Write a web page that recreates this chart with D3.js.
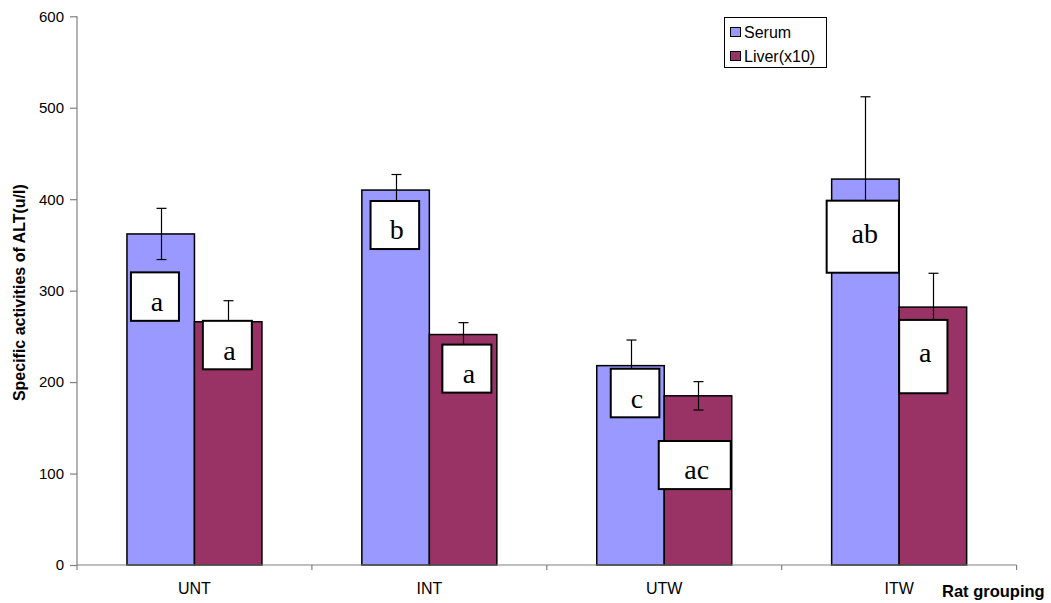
<!DOCTYPE html>
<html>
<head>
<meta charset="utf-8">
<script src="https://cdn.jsdelivr.net/npm/d3@7"></script>
<style>
  html, body { margin: 0; padding: 0; background: #fff; }
  svg { display: block; }
</style>
</head>
<body>
<svg id="chart" width="1051" height="603"></svg>
<script>
// ---------- data ----------
const categories = ["UNT", "INT", "UTW", "ITW"];
const seriesNames = ["Serum", "Liver(x10)"];
const serumValues = [362, 410, 218, 422];
const serumErrors = [28, 17, 28, 90];
const liverValues = [266, 252, 185, 282];
const liverErrors = [23, 13, 15.5, 37];
const yTicks = [0, 100, 200, 300, 400, 500, 600];

// significance letters: label, category, series index, box top / bottom in data units
const annLabels   = ["a", "a", "b", "a", "c", "ac", "ab", "a"];
const annCategory = ["UNT", "UNT", "INT", "INT", "UTW", "UTW", "ITW", "ITW"];
const annSeries   = [0, 1, 0, 1, 0, 1, 0, 1];
const annTop      = [320, 267, 398, 241, 214.6, 135.6, 398.4, 268];
const annBottom   = [267, 214, 345.5, 188.5, 161.5, 83, 319.6, 187.8];

// ---------- layout (positions / sizes / styles) ----------
const annDx    = [4, 8.4, 8.7, 13, 14, -5.5, -5, 0];
const annWidth = [48, 49, 48.6, 49, 48.6, 72, 72.3, 48.3];
const colors = ["#9999FF", "#993366"];

const svg = d3.select("#chart");
const plotLeft = 77, plotRight = 1016.6, plotTop = 16.3, plotBottom = 565;

const x = d3.scaleBand().domain(categories).range([plotLeft, plotRight]).padding(0);
const xs = d3.scaleBand().domain([0, 1]).range([0, x.bandwidth()]).paddingInner(0).paddingOuter(0.74);
const y = d3.scaleLinear().domain([0, 600]).range([plotBottom, plotTop]);

const values = [serumValues, liverValues];
const errors = [serumErrors, liverErrors];

// bars
const barData = [];
categories.forEach((c, i) => {
  [0, 1].forEach(s => barData.push({ c, s, v: values[s][i], e: errors[s][i] }));
});

svg.append("g").selectAll("rect").data(barData).join("rect")
  .attr("x", d => x(d.c) + xs(d.s))
  .attr("y", d => y(d.v))
  .attr("width", xs.bandwidth())
  .attr("height", d => y(0) - y(d.v))
  .attr("fill", d => colors[d.s])
  .attr("stroke", "#000")
  .attr("stroke-width", 1.5);

// error bars
const eg = svg.append("g").attr("stroke", "#000").attr("stroke-width", 1.2);
barData.forEach(d => {
  const cx = Math.round(x(d.c) + xs(d.s) + xs.bandwidth() / 2) + 0.5;
  const yh = y(d.v + d.e), yl = y(d.v - d.e);
  eg.append("line").attr("x1", cx).attr("x2", cx).attr("y1", yh).attr("y2", yl);
  eg.append("line").attr("x1", cx - 5).attr("x2", cx + 5).attr("y1", yh).attr("y2", yh);
  eg.append("line").attr("x1", cx - 5).attr("x2", cx + 5).attr("y1", yl).attr("y2", yl);
});

// annotation boxes
const ag = svg.append("g");
annLabels.forEach((lab, i) => {
  const bx = x(annCategory[i]) + xs(annSeries[i]) + annDx[i];
  const by = y(annTop[i]);
  const h = y(annBottom[i]) - by;
  ag.append("rect")
    .attr("x", bx).attr("y", by)
    .attr("width", annWidth[i]).attr("height", h)
    .attr("fill", "#fff").attr("stroke", "#000").attr("stroke-width", 2);
  ag.append("text")
    .attr("x", bx + annWidth[i] / 2 + 2)
    .attr("y", by + Math.min(h * 0.8, 42))
    .attr("text-anchor", "middle")
    .attr("font-family", "'Liberation Serif', 'Times New Roman', serif")
    .attr("font-size", 28)
    .attr("fill", "#000")
    .text(lab);
});

// y axis
const yAxis = svg.append("g")
  .attr("transform", `translate(${plotLeft},0)`)
  .call(d3.axisLeft(y).tickValues(yTicks).tickSize(7).tickPadding(6).tickFormat(d3.format("d")));
yAxis.select(".domain").attr("stroke", "#808080").attr("stroke-width", 1.2)
  .attr("d", `M0,${plotTop}V${plotBottom + 5}`);
yAxis.selectAll(".tick line").attr("stroke", "#808080").attr("stroke-width", 1.2);
yAxis.selectAll(".tick text")
  .attr("font-family", "Arial, 'Liberation Sans', sans-serif")
  .attr("font-size", 15).attr("fill", "#000");

// x axis
const xAxisG = svg.append("g");
xAxisG.append("line").attr("x1", plotLeft).attr("x2", plotRight).attr("y1", plotBottom).attr("y2", plotBottom)
  .attr("stroke", "#808080").attr("stroke-width", 1.2);
const boundaries = categories.map(c => x(c) + x.bandwidth());
xAxisG.selectAll("line.tk").data(boundaries).join("line").attr("class", "tk")
  .attr("x1", d => d).attr("x2", d => d).attr("y1", plotBottom).attr("y2", plotBottom + 5)
  .attr("stroke", "#808080").attr("stroke-width", 1.2);
xAxisG.selectAll("text").data(categories).join("text")
  .attr("x", d => x(d) + x.bandwidth() / 2)
  .attr("y", 594)
  .attr("text-anchor", "middle")
  .attr("font-family", "Arial, 'Liberation Sans', sans-serif")
  .attr("font-size", 16).attr("fill", "#000")
  .text(d => d);

// axis titles
svg.append("text")
  .attr("transform", `translate(25,${(plotTop + plotBottom) / 2 + 2}) rotate(-90)`)
  .attr("text-anchor", "middle")
  .attr("font-family", "Arial, 'Liberation Sans', sans-serif")
  .attr("font-weight", "bold").attr("font-size", 16).attr("fill", "#000")
  .text("Specific activities of ALT(u/l)");
svg.append("text")
  .attr("x", 942).attr("y", 597)
  .attr("font-family", "Arial, 'Liberation Sans', sans-serif")
  .attr("font-weight", "bold").attr("font-size", 16.5).attr("fill", "#000")
  .text("Rat grouping");

// legend
const lg = svg.append("g");
lg.append("rect").attr("x", 724.5).attr("y", 17.5).attr("width", 102).attr("height", 50)
  .attr("fill", "#fff").attr("stroke", "#000").attr("stroke-width", 1);
seriesNames.forEach((n, i) => {
  const ly = 27.5 + i * 24;
  lg.append("rect").attr("x", 730.5).attr("y", ly).attr("width", 10).attr("height", 9)
    .attr("fill", colors[i]).attr("stroke", "#000").attr("stroke-width", 1);
  lg.append("text").attr("x", 744).attr("y", ly + 10)
    .attr("font-family", "Arial, 'Liberation Sans', sans-serif")
    .attr("font-size", 16).attr("fill", "#000").text(n);
});
</script>
</body>
</html>
